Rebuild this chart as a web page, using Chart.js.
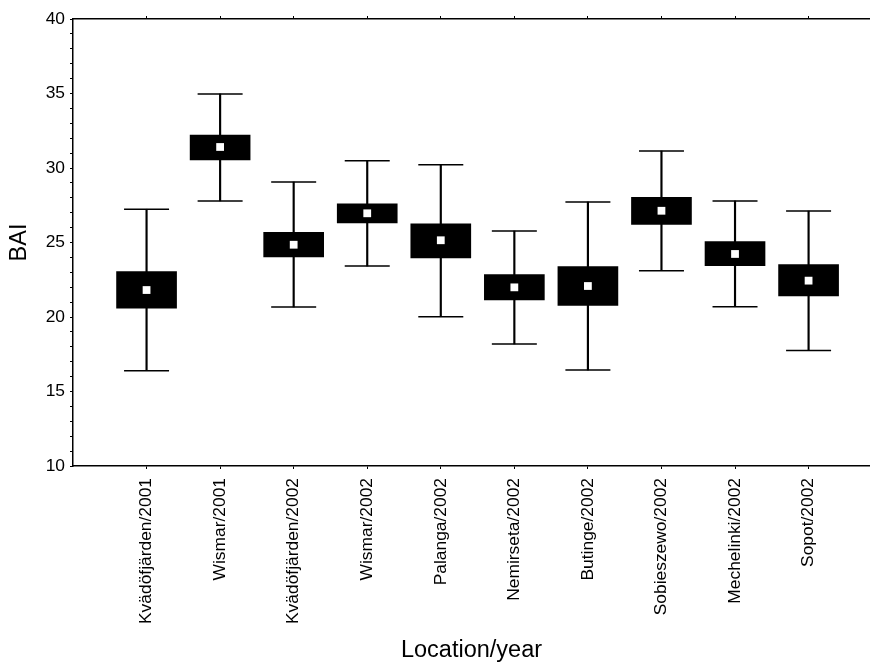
<!DOCTYPE html>
<html>
<head>
<meta charset="utf-8">
<script src="https://cdn.jsdelivr.net/npm/chart.js@4/dist/chart.umd.min.js"></script>
<style>
  body { margin: 0; background: #fff; }
  #wrap { width: 870px; height: 662px; }
</style>
</head>
<body>
<div id="wrap"><canvas id="myChart" width="870" height="662"></canvas></div>
<script>
// values
const categories = ['Kvädöfjärden/2001', 'Wismar/2001', 'Kvädöfjärden/2002', 'Wismar/2002', 'Palanga/2002',
    'Nemirseta/2002', 'Butinge/2002', 'Sobieszewo/2002', 'Mechelinki/2002', 'Sopot/2002']
const means = [21.81, 31.41, 24.85, 26.96, 25.15, 21.99, 22.08, 27.13, 24.23, 22.44]
const boxLow = [20.60, 30.54, 24.03, 26.31, 23.96, 21.14, 20.78, 26.22, 23.44, 21.41]
const boxHigh = [23.04, 32.21, 25.68, 27.60, 26.26, 22.84, 23.38, 28.03, 25.06, 23.51]
const whiskerLow = [16.40, 27.79, 20.67, 23.42, 20.02, 18.19, 16.44, 23.11, 20.69, 17.76]
const whiskerHigh = [27.23, 34.97, 29.06, 30.49, 30.22, 25.77, 27.72, 31.14, 27.79, 27.11]
const yTicks = [10, 15, 20, 25, 30, 35, 40]

const font = 'Liberation Sans, Arial, sans-serif'

let boxData = categories.map((c, i) => ({ x: i + 1, y: [boxLow[i], boxHigh[i]] }))
let whiskerData = categories.map((c, i) => ({ x: i + 1, y: [whiskerLow[i], whiskerHigh[i]] }))
let capData = []
categories.forEach((c, i) => {
    capData.push({ x: i + 1, y: whiskerLow[i] })
    capData.push({ x: i + 1, y: whiskerHigh[i] })
})
let meanData = categories.map((c, i) => ({ x: i + 1, y: means[i] }))

// chart area edges in the reference
const areaTop = 19, areaBottom = 466, areaLeft = 73

var ctx = document.getElementById('myChart').getContext('2d')
var chart = new Chart(ctx, {
    type: 'bar',
    data: {
        datasets: [
            { type: 'scatter', data: meanData, order: 0, pointStyle: 'rect', pointRadius: 5.5,
              pointBackgroundColor: '#fff', pointBorderWidth: 0 },
            { type: 'bar', data: boxData, order: 1, grouped: false, barThickness: 60,
              backgroundColor: '#000', borderWidth: 0 },
            { type: 'scatter', data: capData, order: 2, pointStyle: 'line', pointRadius: 22.5,
              pointBorderColor: '#000', pointBorderWidth: 1.5 },
            { type: 'bar', data: whiskerData, order: 3, grouped: false, barThickness: 1.5,
              backgroundColor: '#000', borderWidth: 0 }
        ]
    },
    options: {
        responsive: false,
        animation: false,
        layout: { padding: 0, autoPadding: false },
        plugins: { legend: { display: false }, tooltip: { enabled: false } },
        scales: {
            x: {
                type: 'linear', position: 'bottom', min: 0, max: 10.835, offset: false,
                afterFit: s => { s.height = 662 - areaBottom; s.paddingLeft = 0; s.paddingRight = 0 },
                afterBuildTicks: s => { s.ticks = categories.map((c, i) => ({ value: i + 1 })) },
                border: { color: '#000', width: 1.5 },
                grid: { offset: false, drawOnChartArea: false, tickLength: 3, color: '#000', lineWidth: 1 },
                ticks: {
                    autoSkip: false, maxRotation: 90, minRotation: 90, padding: 9, color: '#000',
                    font: { family: font, size: 17.4 },
                    callback: v => categories[v - 1] || ''
                },
                title: { display: true, text: 'Location/year', color: '#000',
                         font: { family: font, size: 23.5 }, padding: { top: 0, bottom: -3 } }
            },
            x2: {
                type: 'linear', position: 'top', min: 0, max: 10.835, offset: false,
                afterFit: s => { s.height = areaTop; s.paddingLeft = 0; s.paddingRight = 0 },
                afterBuildTicks: s => { s.ticks = categories.map((c, i) => ({ value: i + 1 })) },
                border: { color: '#000', width: 1.5 },
                grid: { offset: false, drawOnChartArea: false, tickLength: 3, color: '#000', lineWidth: 1 },
                ticks: { display: false }
            },
            y: {
                min: 10, max: 40,
                afterFit: s => { s.width = areaLeft; s.paddingTop = 0; s.paddingBottom = 0 },
                afterBuildTicks: s => {
                    s.ticks = []
                    for (let v = 10; v <= 40; v++) s.ticks.push({ value: v })
                },
                border: { color: '#000', width: 1.5 },
                grid: { drawOnChartArea: false, tickLength: 3, color: '#000', lineWidth: 1 },
                ticks: {
                    autoSkip: false, padding: 5, color: '#000',
                    font: { family: font, size: 17.4 },
                    callback: v => yTicks.includes(v) ? String(v) : ''
                },
                title: { display: true, text: 'BAI', color: '#000',
                         font: { family: font, size: 23.5 }, padding: { top: 5, bottom: 0 } }
            }
        }
    }
})
</script>
</body>
</html>
